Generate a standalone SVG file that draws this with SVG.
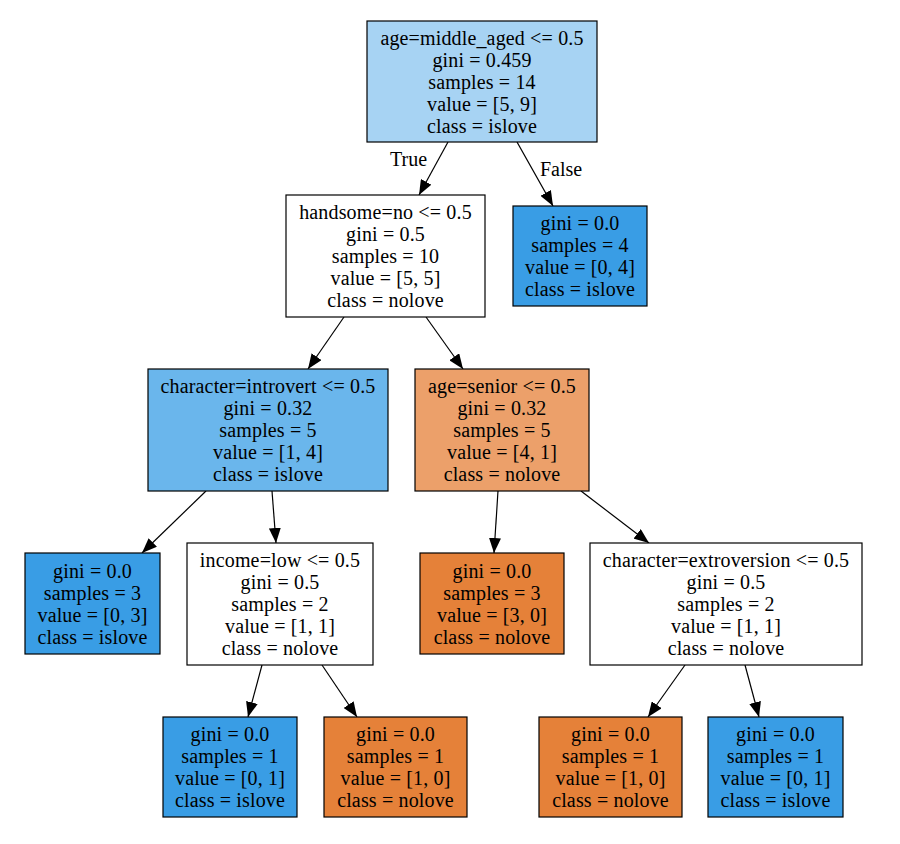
<svg xmlns="http://www.w3.org/2000/svg" width="900" height="844" viewBox="0 0 900 844">
<style>
.box{stroke:#000;stroke-width:1.2}
.t{font-family:"Liberation Serif","Times New Roman",serif;font-size:20px;letter-spacing:0.15px;fill:#000;text-anchor:middle}
.l{font-family:"Liberation Serif","Times New Roman",serif;font-size:20px;fill:#000}
.e{stroke:#000;stroke-width:1.2;fill:none;marker-end:url(#ah)}
</style>
<defs>
<marker id="ah" markerUnits="userSpaceOnUse" markerWidth="15" markerHeight="12" refX="15" refY="6" orient="auto">
<path d="M0,0 L15,6 L0,12 z" fill="#000"/>
</marker>
</defs>
<rect width="900" height="844" fill="#fff"/>
<g id="connectors">
<line class="e" x1="448" y1="142" x2="419" y2="195"/>
<line class="e" x1="517" y1="142" x2="553" y2="206"/>
<line class="e" x1="344" y1="317" x2="308" y2="369"/>
<line class="e" x1="426" y1="317" x2="463" y2="369"/>
<line class="e" x1="206" y1="491" x2="142" y2="553"/>
<line class="e" x1="272" y1="491" x2="276" y2="543"/>
<line class="e" x1="498" y1="491" x2="494" y2="553"/>
<line class="e" x1="581" y1="491" x2="649" y2="543"/>
<line class="e" x1="262" y1="665" x2="248" y2="717"/>
<line class="e" x1="322" y1="665" x2="357" y2="717"/>
<line class="e" x1="685" y1="665" x2="648" y2="717"/>
<line class="e" x1="745" y1="665" x2="759" y2="717"/>
<text class="l" x="390" y="166">True</text>
<text class="l" x="540" y="176">False</text>
</g>
<g id="n0">
<rect class="box" x="367" y="21" width="230" height="121" fill="#a7d3f3"/>
<text class="t" x="482" y="45">age=middle_aged &lt;= 0.5</text>
<text class="t" x="482" y="67">gini = 0.459</text>
<text class="t" x="482" y="89">samples = 14</text>
<text class="t" x="482" y="111">value = [5, 9]</text>
<text class="t" x="482" y="133">class = islove</text>
</g>
<g id="n1">
<rect class="box" x="286" y="195" width="199" height="122" fill="#ffffff"/>
<text class="t" x="385.5" y="219">handsome=no &lt;= 0.5</text>
<text class="t" x="385.5" y="241">gini = 0.5</text>
<text class="t" x="385.5" y="263">samples = 10</text>
<text class="t" x="385.5" y="285">value = [5, 5]</text>
<text class="t" x="385.5" y="307">class = nolove</text>
</g>
<g id="n2">
<rect class="box" x="513" y="206" width="134" height="100" fill="#399de5"/>
<text class="t" x="580" y="230">gini = 0.0</text>
<text class="t" x="580" y="252">samples = 4</text>
<text class="t" x="580" y="274">value = [0, 4]</text>
<text class="t" x="580" y="296">class = islove</text>
</g>
<g id="n3">
<rect class="box" x="148" y="369" width="240" height="122" fill="#6ab6ec"/>
<text class="t" x="268" y="393">character=introvert &lt;= 0.5</text>
<text class="t" x="268" y="415">gini = 0.32</text>
<text class="t" x="268" y="437">samples = 5</text>
<text class="t" x="268" y="459">value = [1, 4]</text>
<text class="t" x="268" y="481">class = islove</text>
</g>
<g id="n4">
<rect class="box" x="415" y="369" width="174" height="122" fill="#eca06a"/>
<text class="t" x="502" y="393">age=senior &lt;= 0.5</text>
<text class="t" x="502" y="415">gini = 0.32</text>
<text class="t" x="502" y="437">samples = 5</text>
<text class="t" x="502" y="459">value = [4, 1]</text>
<text class="t" x="502" y="481">class = nolove</text>
</g>
<g id="n5">
<rect class="box" x="25" y="553" width="135" height="101" fill="#399de5"/>
<text class="t" x="92.5" y="578">gini = 0.0</text>
<text class="t" x="92.5" y="600">samples = 3</text>
<text class="t" x="92.5" y="622">value = [0, 3]</text>
<text class="t" x="92.5" y="644">class = islove</text>
</g>
<g id="n6">
<rect class="box" x="187" y="543" width="186" height="122" fill="#ffffff"/>
<text class="t" x="280" y="567">income=low &lt;= 0.5</text>
<text class="t" x="280" y="589">gini = 0.5</text>
<text class="t" x="280" y="611">samples = 2</text>
<text class="t" x="280" y="633">value = [1, 1]</text>
<text class="t" x="280" y="655">class = nolove</text>
</g>
<g id="n7">
<rect class="box" x="420" y="553" width="144" height="101" fill="#e58139"/>
<text class="t" x="492" y="578">gini = 0.0</text>
<text class="t" x="492" y="600">samples = 3</text>
<text class="t" x="492" y="622">value = [3, 0]</text>
<text class="t" x="492" y="644">class = nolove</text>
</g>
<g id="n8">
<rect class="box" x="590" y="543" width="272" height="122" fill="#ffffff"/>
<text class="t" x="726" y="567">character=extroversion &lt;= 0.5</text>
<text class="t" x="726" y="589">gini = 0.5</text>
<text class="t" x="726" y="611">samples = 2</text>
<text class="t" x="726" y="633">value = [1, 1]</text>
<text class="t" x="726" y="655">class = nolove</text>
</g>
<g id="n9">
<rect class="box" x="163" y="717" width="134" height="100" fill="#399de5"/>
<text class="t" x="230" y="741">gini = 0.0</text>
<text class="t" x="230" y="763">samples = 1</text>
<text class="t" x="230" y="785">value = [0, 1]</text>
<text class="t" x="230" y="807">class = islove</text>
</g>
<g id="n10">
<rect class="box" x="324" y="717" width="143" height="100" fill="#e58139"/>
<text class="t" x="395.5" y="741">gini = 0.0</text>
<text class="t" x="395.5" y="763">samples = 1</text>
<text class="t" x="395.5" y="785">value = [1, 0]</text>
<text class="t" x="395.5" y="807">class = nolove</text>
</g>
<g id="n11">
<rect class="box" x="539" y="717" width="143" height="100" fill="#e58139"/>
<text class="t" x="610.5" y="741">gini = 0.0</text>
<text class="t" x="610.5" y="763">samples = 1</text>
<text class="t" x="610.5" y="785">value = [1, 0]</text>
<text class="t" x="610.5" y="807">class = nolove</text>
</g>
<g id="n12">
<rect class="box" x="708" y="717" width="135" height="100" fill="#399de5"/>
<text class="t" x="775.5" y="741">gini = 0.0</text>
<text class="t" x="775.5" y="763">samples = 1</text>
<text class="t" x="775.5" y="785">value = [0, 1]</text>
<text class="t" x="775.5" y="807">class = islove</text>
</g>
</svg>
